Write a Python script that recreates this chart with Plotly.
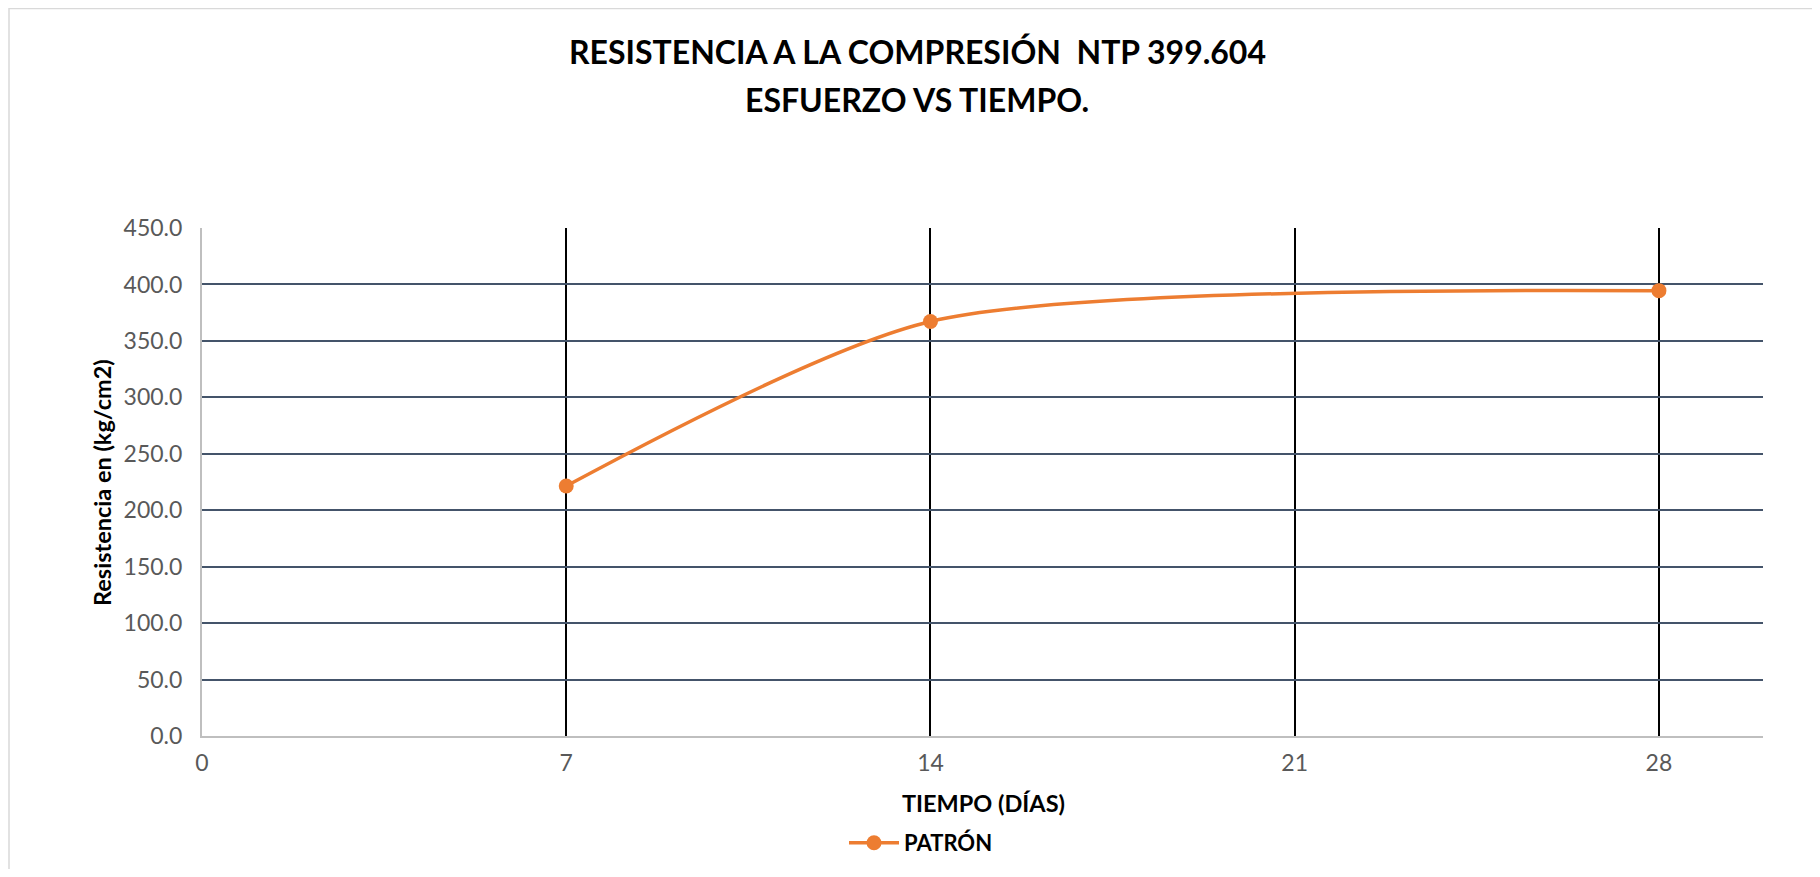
import plotly.graph_objects as go

# Data
dias = [7, 14, 28]
resistencia = [221.4, 367.2, 394.5]
serie_nombre = "PATRÓN"
titulo_1 = "RESISTENCIA A LA COMPRESIÓN  NTP 399.604"
titulo_2 = "ESFUERZO VS TIEMPO."
x_titulo = "TIEMPO (DÍAS)"
y_titulo = "Resistencia en (kg/cm2)"
x_ticks = [0, 7, 14, 21, 28]
y_ticks = [0, 50, 100, 150, 200, 250, 300, 350, 400, 450]

OFF = 8  # page body margin
W, H = 1820 - 2 * OFF, 877 - 2 * OFF
# plot area in page pixels: x 202..1763, y 228..736
L, T = 202 - OFF, 228 - OFF
R, B = W - (1763 - OFF), H - (736 - OFF)
pw, ph = W - L - R, H - T - B

def px(x_page):
    return (x_page - OFF - L) / pw

def py(y_page):
    return (H - B - (y_page - OFF)) / ph

FONT = "Lato"
ORANGE = "#ED7D31"

fig = go.Figure()
fig.add_trace(go.Scatter(
    x=dias, y=resistencia, mode="lines+markers", name=serie_nombre,
    line=dict(color=ORANGE, width=3.5, shape="spline", smoothing=0.72),
    marker=dict(color=ORANGE, size=15),
))

fig.update_layout(
    width=W, height=H,
    margin=dict(l=L, r=R, t=T, b=B, autoexpand=False),
    paper_bgcolor="white", plot_bgcolor="white",
    font=dict(family=FONT, color="#595959", size=23),
    showlegend=True,
    legend=dict(orientation="h", xref="container", yref="container",
                x=(921 - OFF) / W, xanchor="center", y=(877 - 843 - OFF) / H, yanchor="middle",
                font=dict(family=FONT, size=22, color="#000000", weight="bold"),
                itemwidth=50),
    xaxis=dict(range=[0, 30], tickvals=x_ticks, ticktext=[str(v) for v in x_ticks],
               showgrid=True, gridcolor="#000000", gridwidth=1.8,
               showline=True, linecolor="#BFBFBF", linewidth=2,
               zeroline=False, ticks="", ticklabelstandoff=5),
    yaxis=dict(range=[0, 450], tickvals=y_ticks, ticktext=[f"{v:.1f}" for v in y_ticks],
               showgrid=True, gridcolor="#44546A", gridwidth=2,
               showline=True, linecolor="#BFBFBF", linewidth=2,
               zeroline=False, ticks="", ticklabelstandoff=13),
    annotations=[
        dict(text=titulo_1, x=px(917), y=py(52), xref="paper", yref="paper",
             showarrow=False, xanchor="center", yanchor="middle",
             font=dict(family=FONT, size=32, color="#000000", weight="bold")),
        dict(text=titulo_2, x=px(917), y=py(99), xref="paper", yref="paper",
             showarrow=False, xanchor="center", yanchor="middle",
             font=dict(family=FONT, size=32, color="#000000", weight="bold")),
        dict(text=x_titulo, x=px(983), y=py(803), xref="paper", yref="paper",
             showarrow=False, xanchor="center", yanchor="middle",
             font=dict(family=FONT, size=23.5, color="#000000", weight="bold")),
        dict(text=y_titulo, x=px(102), y=py(483), xref="paper", yref="paper",
             showarrow=False, xanchor="center", yanchor="middle", textangle=-90,
             font=dict(family=FONT, size=23.5, color="#000000", weight="bold")),
    ],
    shapes=[
        dict(type="rect", xref="paper", yref="paper",
             x0=px(9), x1=px(1840), y0=py(900), y1=py(8.5),
             line=dict(color="#D9D9D9", width=1.5), fillcolor="rgba(0,0,0,0)", layer="below"),
    ],
)

fig.write_html("out.html")
